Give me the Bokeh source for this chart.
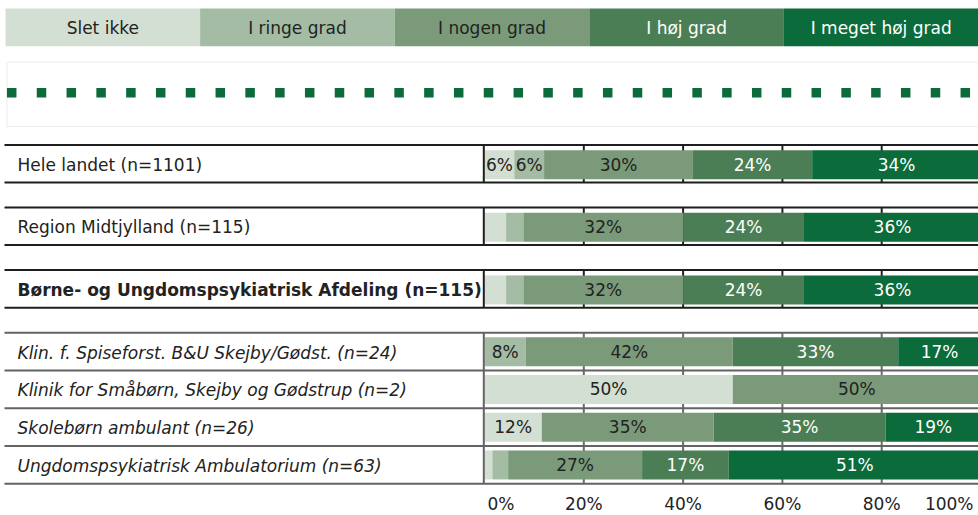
import numpy as np
from bokeh.plotting import figure
from bokeh.models import Range1d, ColumnDataSource
from bokeh.core.properties import value
from bokeh.embed import file_html
from bokeh.resources import INLINE

# ---------------- data ----------------
categories = ["Slet ikke", "I ringe grad", "I nogen grad", "I høj grad", "I meget høj grad"]
units = [
    "Hele landet (n=1101)",
    "Region Midtjylland (n=115)",
    "Børne- og Ungdomspsykiatrisk Afdeling (n=115)",
    "Klin. f. Spiseforst. B&U Skejby/Gødst. (n=24)",
    "Klinik for Småbørn, Skejby og Gødstrup (n=2)",
    "Skolebørn ambulant (n=26)",
    "Ungdomspsykiatrisk Ambulatorium (n=63)",
]
slet_ikke = [6.0, 4.35, 4.35, 0.0, 50.0, 11.54, 1.59]
i_ringe_grad = [6.0, 3.48, 3.48, 8.33, 0.0, 0.0, 3.17]
i_nogen_grad = [30.0, 32.17, 32.17, 41.67, 50.0, 34.62, 26.98]
i_hoej_grad = [24.0, 24.35, 24.35, 33.33, 0.0, 34.62, 17.46]
i_meget_hoej_grad = [34.0, 35.65, 35.65, 16.67, 0.0, 19.23, 50.79]
tick_values = [0, 20, 40, 60, 80, 100]
tick_labels = ["0%", "20%", "40%", "60%", "80%", "100%"]

series = [slet_ikke, i_ringe_grad, i_nogen_grad, i_hoej_grad, i_meget_hoej_grad]

# ---------------- styles / layout ----------------
colors = ["#d3dfd3", "#a3bca3", "#7a9a7a", "#4b7e55", "#0b6b3a"]
text_colors = ["#222222", "#222222", "#222222", "#ffffff", "#ffffff"]
FONT = value("DejaVu Sans")
FS = "17px"

W, H = 978, 515
X0, X1 = 0, W          # picture pixel coordinates
Y0, Y1 = 0, H
PX0, PX100 = 484.0, 980.5  # where 0% and 100% sit in the picture
scale = (PX100 - PX0) / 100.0
pct_start = (X0 - PX0) / scale
pct_end = (X1 - PX0) / scale

p = figure(width=W, height=H, x_range=Range1d(X0, X1), y_range=Range1d(Y1, Y0),
           x_axis_type=None, y_axis_type=None, output_backend="svg",
           toolbar_location=None, min_border=0)
p.outline_line_color = None
p.extra_x_ranges = {"pct": Range1d(pct_start, pct_end)}
p.background_fill_color = "white"

# legend bar
lw = (978 - 5) / 5.0
leg_left = [5 + lw * i for i in range(5)]
leg_right = [l + lw for l in leg_left]
p.quad(left=leg_left, right=leg_right, top=8, bottom=45.7, fill_color=colors, line_color=None)
p.text(x=[l + lw / 2 for l in leg_left], y=[27] * 5, text=categories, text_align="center",
       text_baseline="middle", text_font=FONT, text_font_size=FS, text_color=text_colors)

# dotted separator
p.quad(left=6.5, right=980, top=61.5, bottom=126, fill_color=None, line_color="#ececec", line_width=1)
dot_x = 11.2 + 29.8 * np.arange(33)
p.scatter(x=dot_x, y=[92.3] * len(dot_x), marker="square", size=9.5,
          fill_color="#0b6b3a", line_color=None)

# row positions
top_c = [163.2 + 62.6 * i for i in range(3)]
low_lines = [332.3 + 37.75 * k for k in range(5)]
low_c = [(low_lines[k] + low_lines[k + 1]) / 2 for k in range(4)]
ys = top_c + low_c
half = 18.8
BAR_H = 29

# gridlines (behind bars)
grid_vals = tick_values[1:-1]
gx, gy0, gy1, gcol = [], [], [], []
for c in top_c:
    for g in grid_vals:
        gx.append(g); gy0.append(c - half); gy1.append(c + half); gcol.append("#222222")
for g in grid_vals:
    gx.append(g); gy0.append(low_lines[0]); gy1.append(low_lines[-1]); gcol.append("#6a6a6a")
p.segment(x0=gx, x1=gx, y0=gy0, y1=gy1, line_color=gcol, line_width=2, x_range_name="pct")

# stacked bars
cum = np.zeros(len(units))
lab_x, lab_y, lab_t, lab_c = [], [], [], []
bar_y = [y + (1 if k < 3 else 0) for k, y in enumerate(ys)]
for i, vals in enumerate(series):
    v = np.array(vals, dtype=float)
    left = cum.copy()
    right = cum + v
    src = ColumnDataSource(dict(y=bar_y, left=left, right=right))
    p.hbar(y="y", left="left", right="right", height=BAR_H, source=src,
           fill_color=colors[i], line_color=None, x_range_name="pct")
    for k in range(len(units)):
        if v[k] >= 5:
            lab_x.append(left[k] + v[k] / 2)
            lab_y.append(bar_y[k])
            lab_t.append(f"{int(v[k] + 0.5)}%")
            lab_c.append(text_colors[i])
    cum = right

p.text(x=lab_x, y=lab_y, text=lab_t, text_align="center", text_baseline="middle",
       text_font=FONT, text_font_size=FS, text_color=lab_c, x_range_name="pct")

# box lines (pixel space)
hx0, hx1, hy, hc = [], [], [], []
for c in top_c:
    for yy in (c - half, c + half):
        hx0.append(4); hx1.append(980); hy.append(yy); hc.append("#1e1e1e")
for yy in low_lines:
    hx0.append(4); hx1.append(980); hy.append(yy); hc.append("#636363")
p.segment(x0=hx0, x1=hx1, y0=hy, y1=hy, line_color=hc, line_width=2)

vx = [483.3] * 4
vy0 = [c - half for c in top_c] + [low_lines[0]]
vy1 = [c + half for c in top_c] + [low_lines[-1]]
vcol = ["#1e1e1e"] * 3 + ["#636363"]
p.segment(x0=vx, x1=vx, y0=vy0, y1=vy1, line_color=vcol, line_width=2)

# row labels
styles = ["normal", "normal", "bold", "italic", "italic", "italic", "italic"]
p.text(x=[17] * len(units), y=[y + 1 for y in ys], text=units, text_align="left",
       text_baseline="middle", text_font=FONT, text_font_size=FS,
       text_font_style=styles, text_color="#222222")

# x tick labels
aligns = ["left", "center", "center", "center", "center", "right"]
offs = [3, 0, 0, 0, 0, -5]
p.text(x=tick_values[:-1] + [pct_end], y=[513] * len(tick_values), text=tick_labels, text_align=aligns,
       x_offset=offs, text_baseline="bottom", text_font=FONT, text_font_size=FS,
       text_color="#222222", x_range_name="pct")

open("out.html", "w").write(file_html(p, INLINE))
